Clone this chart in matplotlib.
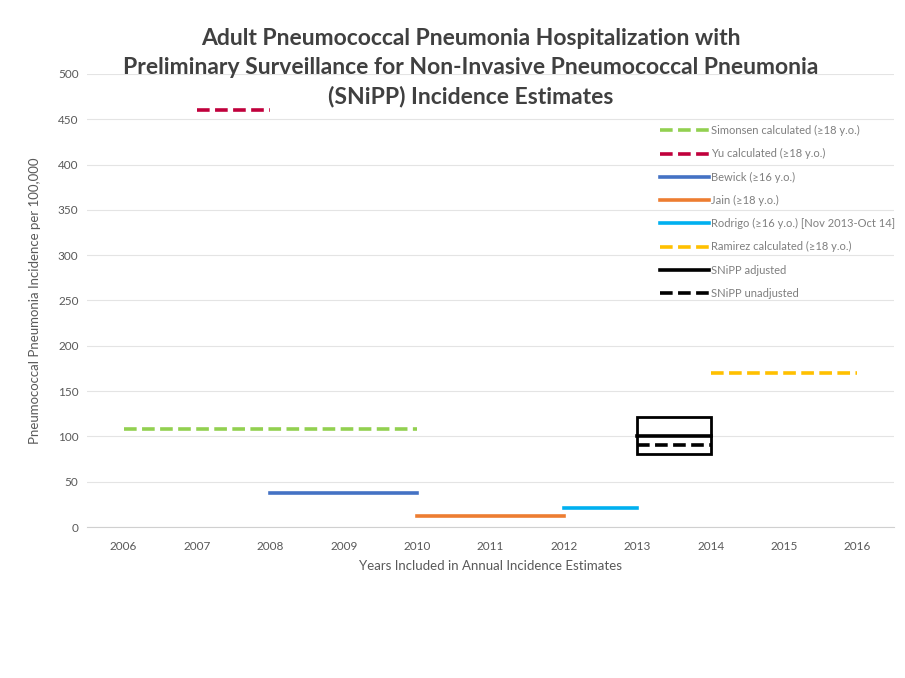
import matplotlib
matplotlib.use("Agg")
import matplotlib.pyplot as plt
from matplotlib.patches import Rectangle

plt.rcParams['font.family'] = ['Lato', 'DejaVu Sans']

years = list(range(2006, 2017))
title = ("Adult Pneumococcal Pneumonia Hospitalization with\n"
         "Preliminary Surveillance for Non-Invasive Pneumococcal Pneumonia\n"
         "(SNiPP) Incidence Estimates")

# series: label, start year, end year, value
labels = ["Simonsen calculated (\u226518 y.o.)", "Yu calculated (\u226518 y.o.)",
          "Bewick (\u226516 y.o.)", "Jain (\u226518 y.o.)",
          "Rodrigo (\u226516 y.o.) [Nov 2013-Oct 14]",
          "Ramirez calculated (\u226518 y.o.)", "SNiPP adjusted", "SNiPP unadjusted"]
starts = [2006, 2007, 2008, 2010, 2012, 2014, 2013, 2013]
ends = [2010, 2008, 2010, 2012, 2013, 2016, 2014, 2014]
values = [108, 460, 37, 12, 21, 170, 100, 90]
colors = ["#92d050", "#c0003c", "#4472c4", "#ed7d31", "#00b0f0", "#ffc000", "#000000", "#000000"]
styles = ["--", "--", "-", "-", "-", "--", "-", "--"]
snipp_ci = (81, 121)

fig = plt.figure(figsize=(9.05, 6.78), dpi=100)
ax = fig.add_axes([0.096, 0.2227, 0.892, 0.6682])

for lab, s, e, v, c, ls in zip(labels, starts, ends, values, colors, styles):
    ax.plot([s, e], [v, v], color=c, ls=ls, lw=2.6, label=lab,
            dashes=(3.5, 1.5) if ls == "--" else (None, None))

ax.add_patch(Rectangle((2013, snipp_ci[0]), 1, snipp_ci[1] - snipp_ci[0],
                       fill=False, edgecolor="black", lw=2, zorder=3))

ax.set_xlim(2005.5, 2016.5)
ax.set_ylim(0, 500)
ax.set_xticks(years)
ax.set_xticklabels([str(y) for y in years])
ax.set_yticks(range(0, 501, 50))
ax.yaxis.grid(True, color="#e4e4e4", lw=0.8)
ax.set_axisbelow(True)
for sp in ["top", "right", "left"]:
    ax.spines[sp].set_visible(False)
ax.spines["bottom"].set_color("#d0d0d0")
ax.tick_params(axis="both", length=0, labelsize=8.5, colors="#595959")
ax.tick_params(axis="x", pad=10)
ax.tick_params(axis="y", pad=6)

ax.set_xlabel("Years Included in Annual Incidence Estimates", fontsize=9.5, color="#595959", labelpad=6)
ax.set_ylabel("Pneumococcal Pneumonia Incidence per 100,000", fontsize=9.5, color="#595959", labelpad=12)

fig.text(0.52, 0.958, title, ha="center", va="top", fontsize=16.5, fontweight="bold",
         color="#404040", linespacing=1.45)

leg = ax.legend(loc="upper left", bbox_to_anchor=(0.704, 0.897), frameon=False,
                fontsize=8, labelcolor="#7f7f7f", handlelength=4.4, handletextpad=0.2,
                labelspacing=1.1, borderaxespad=0)

fig.savefig("out.png", dpi=100, facecolor="white")
